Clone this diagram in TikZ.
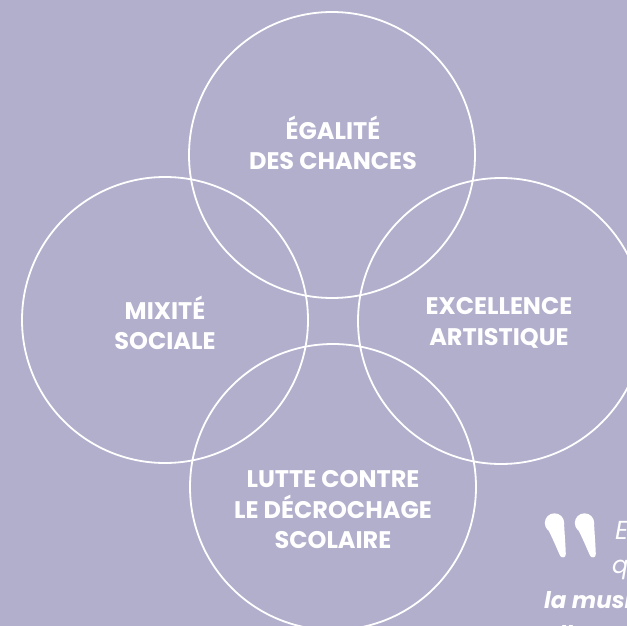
\documentclass[tikz,border=0pt]{standalone}
\usepackage{fontspec}
\setmainfont{Poppins}
\begin{document}
\begin{tikzpicture}[x=1pt,y=-1pt,
  ring/.style={circle,draw=white,line width=1.8pt,minimum size=286pt,inner sep=0pt},
  lbl/.style={text=white,font=\fontsize{24}{30.5}\selectfont\bfseries,align=center,inner sep=0pt},
  qmark/.style={fill=white,draw=none}]
\definecolor{bgc}{HTML}{B2AFCD}
\useasboundingbox (0,0) rectangle (627,626);
\fill[bgc] (0,0) rectangle (627,626);
\begin{scope}
\clip (0,0) rectangle (627,626);
\node[ring] (top) at (332,155) {};
\node[ring] (left) at (165,320) {};
\node[ring] (right) at (501,321) {};
\node[ring] (bottom) at (333,487) {};
\node[lbl] (ltop) at (333,143) {ÉGALITÉ\\DES CHANCES};
\node[lbl] (lleft) at (165,323) {MIXITÉ\\SOCIALE};
\node[lbl] (lright) at (499,323) {EXCELLENCE\\ARTISTIQUE};
\node[lbl] (lbottom) at (333,510) {LUTTE CONTRE\\LE DÉCROCHAGE\\SCOLAIRE};
% quote marks
\foreach \dx in {0,30}{
  \fill[qmark] (554.5+\dx,523) circle (9.7);
  \fill[qmark] (548.5+\dx,530.5) .. controls (553+\dx,539) and (557+\dx,549) .. (560+\dx,555.5)
     .. controls (561.5+\dx,558.5) and (566+\dx,558) .. (565.8+\dx,554)
     .. controls (565.5+\dx,545) and (564.5+\dx,532) .. (564+\dx,523) -- cycle;
}
\node[text=white,font=\fontsize{26}{34}\selectfont\itshape,anchor=base west,inner sep=0pt] (q1) at (615,539) {E};
\node[text=white,font=\fontsize{24}{34}\selectfont\itshape,anchor=base west,inner sep=0pt] (q2) at (612,573) {q};
\node[text=white,font=\fontsize{23}{34}\selectfont\bfseries\itshape,anchor=base west,inner sep=0pt] (q3) at (544,608) {la musique};
\node[text=white,font=\fontsize{23}{34}\selectfont\bfseries\itshape,anchor=base west,inner sep=0pt] (q4) at (559,642) {ll};
\end{scope}
\end{tikzpicture}
\end{document}
